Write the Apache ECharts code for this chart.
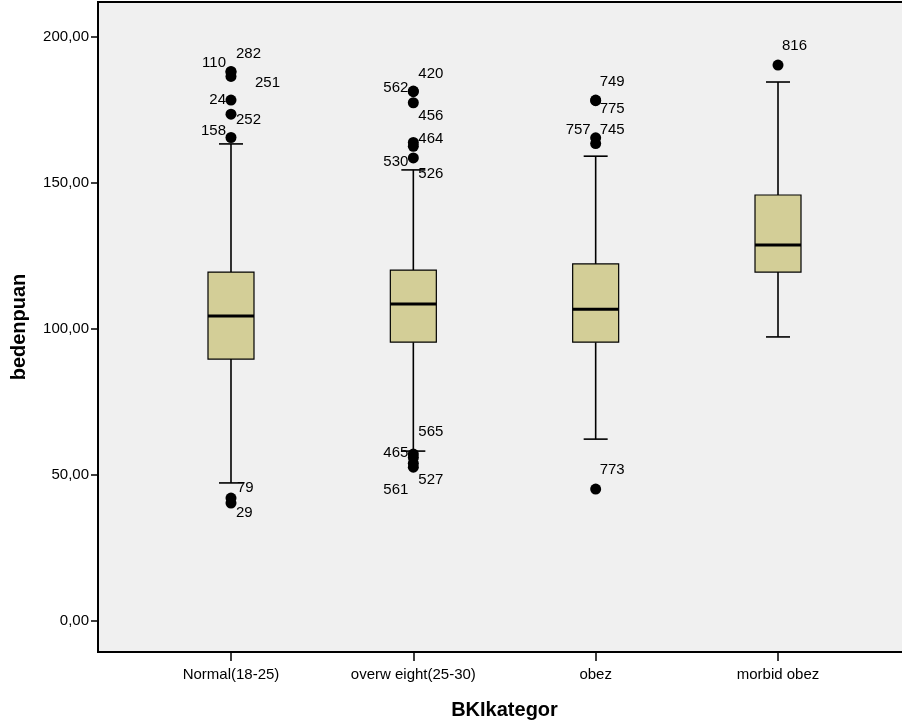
<!DOCTYPE html>
<html>
<head>
<meta charset="utf-8">
<script src="https://cdn.jsdelivr.net/npm/echarts@6/dist/echarts.min.js"></script>
<style>
html,body{margin:0;padding:0;background:#fff;}
#chart{width:902px;height:728px;}
</style>
</head>
<body>
<div id="chart"></div>
<script>
// ---- data ----
const categories = ['Normal(18-25)', 'overw eight(25-30)', 'obez', 'morbid obez'];
const whiskerLow  = [47.3, 58.2, 62.3, 97.3];
const q1          = [89.7, 95.5, 95.5, 119.5];
const median      = [104.5, 108.6, 106.8, 128.8];
const q3          = [119.5, 120.2, 122.3, 145.9];
const whiskerHigh = [163.4, 154.5, 159.2, 184.6];

const outlierCategory = [0, 0, 0, 0, 0, 0, 0, 0,
                         1, 1, 1, 1, 1, 1, 1, 1, 1, 1,
                         2, 2, 2, 2, 2,
                         3];
const outlierValue = [188.2, 188.0, 186.5, 178.4, 173.6, 165.6, 42.1, 40.4,
                      181.5, 181.3, 177.5, 163.9, 162.6, 158.6, 57.2, 56.0, 54.0, 52.7,
                      178.4, 178.2, 165.5, 163.5, 45.2,
                      190.4];
const outlierId = ['110', '282', '251', '24', '252', '158', '79', '29',
                   '562', '420', '456', '464', '526', '530', '565', '465', '527', '561',
                   '749', '775', '757', '745', '773',
                   '816'];

const yTickValues = [0, 50, 100, 150, 200];

// ---- label placement (style only): side and pixel offsets ----
const labelSide = ['L', 'R', 'R', 'L', 'R', 'L', 'R', 'R',
                   'L', 'R', 'R', 'R', 'R', 'L', 'R', 'L', 'R', 'L',
                   'R', 'R', 'L', 'R', 'R',
                   'R'];
const labelDx = [5, 5, 24, 5, 5, 5, 6, 5,
                 5, 5, 5, 5, 5, 5, 5, 5, 5, 5,
                 4, 4, 5, 4, 4,
                 4];
const labelDy = [-9, -18, 6, 0, 6, -7, -10, 10,
                 -3, -18, 13, -4, 28, 4, -22, -5, 16, 23,
                 -18, 8, -8, -14, -19,
                 -19];

const boxData = categories.map((c, i) => [i, whiskerLow[i], q1[i], median[i], q3[i], whiskerHigh[i]]);
const outlierData = outlierValue.map((v, i) => [outlierCategory[i], v, i]);

const FONT = "'Liberation Sans', Arial, sans-serif";

const chart = echarts.init(document.getElementById('chart'), null, {renderer: 'canvas'});

const option = {
  backgroundColor: '#ffffff',
  animation: false,
  grid: {
    left: 98, top: 2, width: 813, height: 650,
    containLabel: false, outerBoundsMode: 'none',
    show: true, backgroundColor: '#F0F0F0', borderColor: '#000', borderWidth: 2
  },
  xAxis: {
    type: 'value',
    min: -0.7294, max: 3.7294,
    splitLine: {show: false},
    axisLine: {show: true, onZero: false, lineStyle: {color: '#000', width: 2}},
    axisTick: {show: true, length: 9, customValues: [0, 1, 2, 3], lineStyle: {color: '#000', width: 1.5}},
    axisLabel: {
      customValues: [0, 1, 2, 3],
      margin: 15,
      color: '#000', fontSize: 15, fontFamily: FONT,
      formatter: v => categories[Math.round(v)]
    },
    name: 'BKIkategor', nameLocation: 'middle', nameGap: 48,
    nameTextStyle: {color: '#000', fontSize: 20, fontWeight: 'bold', fontFamily: FONT}
  },
  yAxis: {
    type: 'value',
    min: -10.6, max: 212.0,
    splitLine: {show: false},
    axisLine: {show: true, onZero: false, lineStyle: {color: '#000', width: 2}},
    axisTick: {show: true, length: 7, customValues: yTickValues, lineStyle: {color: '#000', width: 1.5}},
    axisLabel: {
      customValues: yTickValues,
      margin: 9,
      color: '#000', fontSize: 15, fontFamily: FONT,
      formatter: v => v.toFixed(2).replace('.', ',')
    },
    name: 'bedenpuan', nameLocation: 'middle', nameGap: 69,
    nameTextStyle: {color: '#000', fontSize: 20, fontWeight: 'bold', fontFamily: FONT}
  },
  series: [
    {
      type: 'custom',
      data: boxData,
      encode: {x: 0, y: [1, 2, 3, 4, 5]},
      renderItem: function (params, api) {
        const cat = api.value(0);
        const pLow = api.coord([cat, api.value(1)]);
        const pQ1 = api.coord([cat, api.value(2)]);
        const pMed = api.coord([cat, api.value(3)]);
        const pQ3 = api.coord([cat, api.value(4)]);
        const pHigh = api.coord([cat, api.value(5)]);
        const cx = pMed[0];
        const halfBox = 23, halfCap = 12;
        const lineStyle = {stroke: '#000', lineWidth: 1.6};
        return {
          type: 'group',
          children: [
            {type: 'line', shape: {x1: cx, y1: pHigh[1], x2: cx, y2: pQ3[1]}, style: lineStyle},
            {type: 'line', shape: {x1: cx, y1: pQ1[1], x2: cx, y2: pLow[1]}, style: lineStyle},
            {type: 'line', shape: {x1: cx - halfCap, y1: pHigh[1], x2: cx + halfCap, y2: pHigh[1]}, style: lineStyle},
            {type: 'line', shape: {x1: cx - halfCap, y1: pLow[1], x2: cx + halfCap, y2: pLow[1]}, style: lineStyle},
            {type: 'rect', shape: {x: cx - halfBox, y: pQ3[1], width: halfBox * 2, height: pQ1[1] - pQ3[1]},
             style: {fill: '#D3CE97', stroke: '#000', lineWidth: 1.2}},
            {type: 'line', shape: {x1: cx - halfBox, y1: pMed[1], x2: cx + halfBox, y2: pMed[1]},
             style: {stroke: '#000', lineWidth: 3}}
          ]
        };
      }
    },
    {
      type: 'custom',
      data: outlierData,
      encode: {x: 0, y: 1},
      renderItem: function (params, api) {
        const idx = api.value(2);
        const p = api.coord([api.value(0), api.value(1)]);
        const left = labelSide[idx] === 'L';
        return {
          type: 'group',
          children: [
            {type: 'circle', shape: {cx: p[0], cy: p[1], r: 5.5}, style: {fill: '#000'}},
            {type: 'text', x: p[0] + (left ? -labelDx[idx] : labelDx[idx]), y: p[1] + labelDy[idx],
             style: {text: outlierId[idx], fill: '#000', font: '15px ' + FONT,
                     align: left ? 'right' : 'left', verticalAlign: 'middle'}}
          ]
        };
      }
    }
  ]
};
chart.setOption(option);
</script>
</body>
</html>
